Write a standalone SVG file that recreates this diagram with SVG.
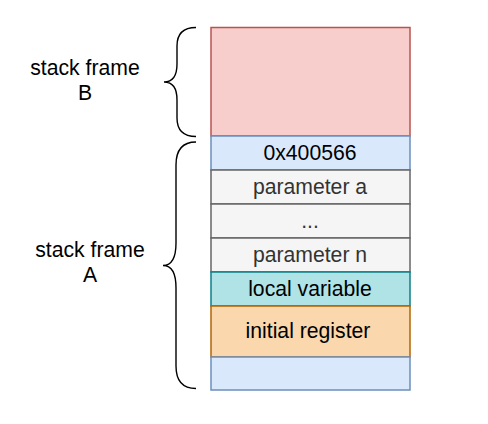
<svg xmlns="http://www.w3.org/2000/svg" width="488" height="424" viewBox="0 0 488 424">
<style>
text{font-family:"Liberation Sans",Arial,sans-serif;font-size:21.2px;text-anchor:middle;fill:#000}
.cell{stroke-width:1.5}
.red{fill:#f8cecc;stroke:#b85450}
.blue{fill:#dae8fc;stroke:#6c8ebf}
.grey{fill:#f5f5f5;stroke:#666666}
.cyan{fill:#b0e3e6;stroke:#0e8088}
.orange{fill:#fad7ac;stroke:#b46504}
.g{fill:#333333}
.brace{fill:none;stroke:#000;stroke-width:1.4}
</style>
<rect width="488" height="424" fill="#fff"/>
<g id="frameB"><rect class="cell red" x="211" y="27.5" width="199" height="108.5"/></g>
<g id="ret"><rect class="cell blue" x="211" y="136" width="199" height="34"/><text x="310" y="160">0x400566</text></g>
<g id="parama"><rect class="cell grey" x="211" y="170" width="199" height="34"/><text class="g" x="310" y="194">parameter a</text></g>
<g id="dots"><rect class="cell grey" x="211" y="204" width="199" height="34"/><text class="g" x="310" y="228">...</text></g>
<g id="paramn"><rect class="cell grey" x="211" y="238" width="199" height="34"/><text class="g" x="310" y="262">parameter n</text></g>
<g id="local"><rect class="cell cyan" x="211" y="272" width="199" height="34"/><text x="310" y="296">local variable</text></g>
<g id="initreg"><rect class="cell orange" x="211" y="306" width="199" height="51"/><text x="308" y="338">initial register</text></g>
<g id="bottom"><rect class="cell blue" x="211" y="357" width="199" height="33"/></g>
<g id="braceB"><path class="brace" d="M196 27.5 Q177 27.5 177 46 L177 64 Q177 82 164 82 Q177 82 177 100 L177 118 Q177 136.5 196 136.5"/><text x="85" y="75">stack frame</text><text x="85" y="100">B</text></g>
<g id="braceA"><path class="brace" d="M196 142 Q176 142 176 165 L176 243 Q176 265.5 163 265.5 Q176 265.5 176 288 L176 366 Q176 388.5 196 388.5"/><text x="90" y="257">stack frame</text><text x="90" y="282">A</text></g>
</svg>
